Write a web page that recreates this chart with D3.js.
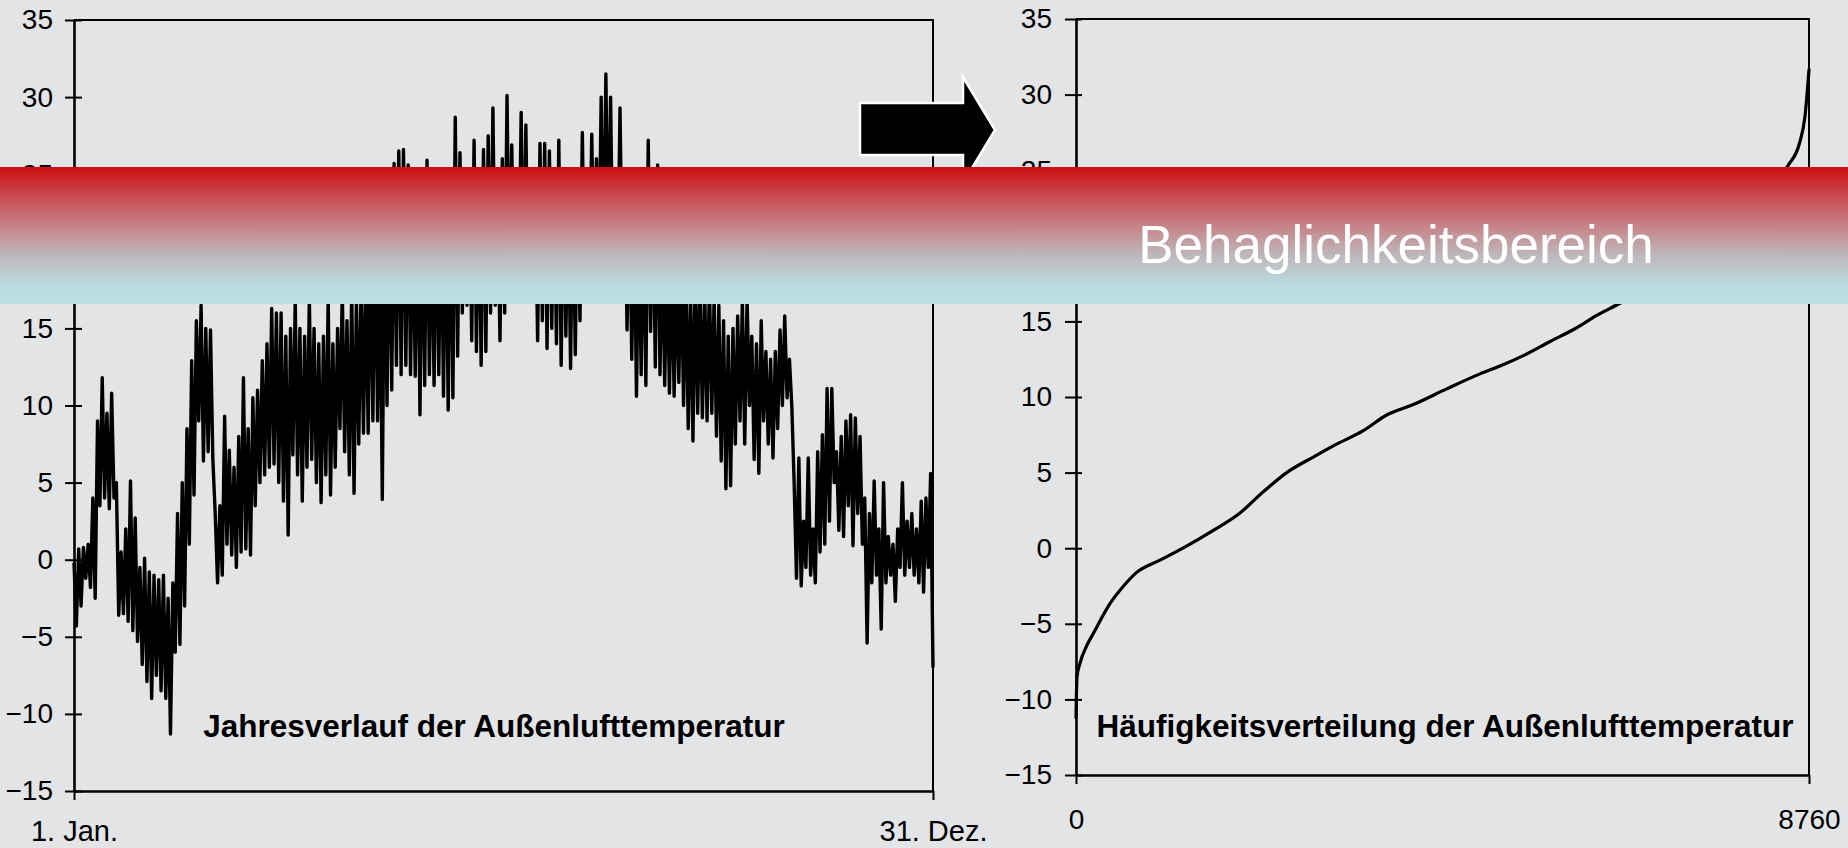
<!DOCTYPE html>
<html>
<head>
<meta charset="utf-8">
<script src="https://cdn.jsdelivr.net/npm/d3@7"></script>
<style>
  body { margin: 0; background: #e3e4e6; }
  svg { display: block; }
</style>
</head>
<body>
<svg id="chart"></svg>
<script>
// Size of the page
const svgWidth = 1848;
const svgHeight = 848;
const fontFamily = '"Liberation Sans", Arial, Helvetica, sans-serif';

// Tick values and labels
const yTicks = [-15, -10, -5, 0, 5, 10, 15, 20, 25, 30, 35];
const yearTickDays = [0, 365];
const yearTickLabels = ['1. Jan.', '31. Dez.'];
const hourTicks = [0, 8760];

// Outdoor temperature over the year, read every 2 days (upper and lower edge of the daily swing)
const sampleStepDays = 2;
const highTemps = [
  -0.2, 0.7, 0.8, 1.0, 4.0, 9.0, 11.8, 9.5, 10.8, 5.0,
  0.5, 2.0, 5.1, 2.7, -0.5, 0.1, -0.8, -1.0, -1.3, -1.0,
  -2.5, -1.5, 3.0, 5.0, 8.5, 12.9, 15.5, 16.5, 15.0, 14.9,
  3.0, 3.5, 9.3, 7.1, 6.0, 8.0, 11.8, 8.5, 10.5, 11.0,
  12.9, 14.0, 16.3, 16.0, 16.0, 14.5, 15.0, 16.8, 15.0, 14.5,
  17.0, 15.0, 14.0, 14.5, 17.0, 14.0, 15.0, 17.5, 15.5, 17.5,
  17.0, 18.0, 19.0, 21.0, 22.0, 20.0, 23.0, 24.0, 25.7, 26.5,
  26.6, 25.6, 23.0, 24.0, 24.0, 25.9, 23.0, 24.0, 24.0, 24.0,
  25.0, 28.7, 26.4, 24.0, 25.0, 27.2, 25.0, 26.6, 27.5, 29.3,
  24.0, 26.0, 30.1, 26.9, 25.0, 29.0, 28.2, 25.0, 24.5, 27.0,
  27.0, 26.5, 25.0, 27.2, 25.0, 24.0, 25.0, 24.5, 27.7, 25.0,
  27.6, 26.0, 30.0, 31.5, 30.0, 25.0, 29.3, 25.0, 24.0, 23.0,
  22.0, 23.0, 27.2, 24.0, 25.6, 21.0, 20.0, 19.5, 19.0, 20.0,
  18.5, 17.5, 19.0, 18.0, 17.5, 18.0, 17.0, 16.5, 15.5, 14.5,
  15.0, 15.8, 16.8, 17.0, 14.5, 14.0, 15.5, 13.5, 13.0, 13.5,
  14.9, 15.8, 13.0, 5.0, 6.6, 2.5, 6.6, 2.0, 7.0, 8.1,
  11.1, 11.1, 7.0, 8.0, 9.0, 9.4, 9.2, 8.0, 4.0, 3.0,
  5.1, 2.0, 5.0, 1.5, 1.0, 2.0, 5.0, 2.5, 3.0, 2.0,
  3.8, 4.0, 5.6
];
const lowTemps = [
  -4.3, -3.0, -1.2, -1.8, -2.5, 3.5, 4.0, 3.3, 4.0, -3.6,
  -3.5, -4.0, -4.6, -5.3, -6.8, -7.9, -9.0, -7.5, -8.5, -9.0,
  -11.3, -6.0, -5.5, -3.0, 1.0, 4.2, 9.0, 6.4, 7.0, 6.5,
  -1.5, -1.0, 1.0, 0.3, -0.5, 0.5, 0.7, 0.3, 3.5, 5.0,
  5.5, 6.0, 6.2, 5.0, 3.8, 1.6, 6.8, 5.5, 3.8, 6.0,
  6.5, 5.0, 3.7, 5.5, 4.2, 6.0, 8.5, 7.0, 5.5, 4.3,
  7.5, 8.2, 8.2, 9.0, 9.0, 3.9, 10.0, 11.0, 12.6, 12.0,
  12.6, 12.0, 11.9, 9.4, 11.3, 12.0, 11.3, 12.0, 10.6, 9.7,
  10.5, 13.2, 16.0, 16.5, 14.2, 13.5, 12.6, 13.5, 16.0, 16.5,
  14.2, 16.0, 17.0, 17.5, 17.5, 17.0, 17.0, 17.0, 14.2, 15.5,
  13.7, 15.0, 14.0, 12.6, 14.5, 12.4, 13.3, 15.5, 17.0, 18.0,
  18.0, 18.5, 18.5, 19.0, 18.0, 17.5, 17.5, 14.9, 13.0, 10.6,
  12.0, 11.3, 14.8, 12.5, 12.0, 11.3, 10.8, 10.6, 11.5, 10.0,
  8.5, 7.7, 9.5, 9.2, 9.0, 9.5, 8.0, 6.4, 4.6, 4.8,
  7.5, 9.0, 7.5, 10.0, 6.5, 5.6, 9.0, 7.5, 6.6, 8.5,
  10.0, 10.5, 10.0, -1.2, -1.7, -0.5, -1.0, -1.5, 0.5, 1.0,
  2.5, 5.0, 1.9, 1.5, 3.5, 0.9, 3.0, 1.0, -5.4, -1.5,
  -1.0, -4.5, -1.5, -1.0, -2.7, -0.5, -1.0, -0.5, -1.0, -1.5,
  -2.1, -0.5, -7.0
];

// Sorted hourly temperatures (duration curve)
const sortedHours = [0, 12, 48, 128, 207, 406, 566, 725, 1004, 1283, 1641, 1960, 2238, 2518, 2836, 3075,
  3433, 3713, 4031, 4430, 4828, 5067, 5346, 5665, 5984, 6223, 6501, 7000, 7400, 7800, 8100, 8350,
  8509, 8647, 8712, 8760];
const sortedTemps = [-11.2, -8.5, -7.6, -6.45, -5.64, -3.67, -2.52, -1.6, -0.79, 0.02, 1.18, 2.33, 3.73, 5.0, 6.03, 6.77,
  7.77, 8.81, 9.5, 10.54, 11.53, 12.05, 12.74, 13.67, 14.58, 15.4, 16.2, 17.9, 19.3, 21.0, 22.6, 24.0,
  25.3, 26.8, 28.56, 31.65];

const leftTitle = 'Jahresverlauf der Außenlufttemperatur';
const rightTitle = 'Häufigkeitsverteilung der Außenlufttemperatur';
const bandLabel = 'Behaglichkeitsbereich';

//SVG creation
const svg = d3.select('#chart')
  .attr('width', svgWidth)
  .attr('height', svgHeight)
  .style('font-family', fontFamily);

svg.append('rect')
  .attr('width', svgWidth)
  .attr('height', svgHeight)
  .attr('fill', '#e3e4e6');

//Scales
const xYear = d3.scaleLinear().domain([0, 365]).range([74, 933]);
const yYear = d3.scaleLinear().domain([-15, 35]).range([791, 20]);
const xHours = d3.scaleLinear().domain([0, 8760]).range([1076, 1809]);
const yHours = d3.scaleLinear().domain([-15, 35]).range([775, 19]);

//Axes and frame for one panel
function drawPanel(x, y, xTickValues, xTickFormat, opts) {
  const g = svg.append('g');
  const [x0, x1] = x.range();
  const [yBottom, yTop] = y.range();

  // top and right border
  g.append('path')
    .attr('d', `M${x0},${yTop}H${x1}V${yBottom}`)
    .attr('fill', 'none')
    .attr('stroke', '#000')
    .attr('stroke-width', 2);

  const yAxis = g.append('g')
    .attr('transform', `translate(${x0},0)`)
    .call(d3.axisLeft(y).tickValues(yTicks).tickSize(opts.tickOut).tickSizeOuter(0).tickPadding(opts.labelPad));
  yAxis.selectAll('.tick line').attr('x1', opts.tickIn).attr('stroke-width', 2);

  const xAxis = g.append('g')
    .attr('transform', `translate(0,${yBottom})`)
    .call(d3.axisBottom(x).tickValues(xTickValues).tickFormat(xTickFormat).tickSize(9).tickSizeOuter(0).tickPadding(opts.xLabelPad));
  xAxis.selectAll('.tick line').attr('stroke-width', 2);

  [yAxis, xAxis].forEach(a => {
    a.attr('font-family', fontFamily).attr('font-size', 28);
    a.select('.domain').attr('stroke-width', 2.6);
    a.selectAll('text').attr('fill', '#000');
  });
  xAxis.attr('font-size', opts.xFontSize);
  return g;
}

drawPanel(xYear, yYear, yearTickDays, (d, i) => yearTickLabels[i],
  { tickOut: 9, tickIn: 8, labelPad: 12, xLabelPad: 20, xFontSize: 29 });
drawPanel(xHours, yHours, hourTicks, d3.format('d'),
  { tickOut: 11, tickIn: 6, labelPad: 13, xLabelPad: 25, xFontSize: 28 });

//Year course: zigzag between the upper and lower reading of each sample
const yearPoints = [];
highTemps.forEach((hi, i) => {
  const day = i * sampleStepDays;
  yearPoints.push([day, hi], [day + 1, lowTemps[i]]);
});

svg.append('path')
  .datum(yearPoints)
  .attr('fill', 'none')
  .attr('stroke', '#000')
  .attr('stroke-width', 3.4)
  .attr('stroke-linejoin', 'round')
  .attr('d', d3.line().x(d => xYear(d[0])).y(d => yYear(d[1])));

//Duration curve
svg.append('path')
  .datum(sortedHours.map((h, i) => [h, sortedTemps[i]]))
  .attr('fill', 'none')
  .attr('stroke', '#000')
  .attr('stroke-width', 3.2)
  .attr('stroke-linecap', 'round')
  .attr('d', d3.line().curve(d3.curveMonotoneX).x(d => xHours(d[0])).y(d => yHours(d[1])));

//Titles
svg.append('text')
  .attr('x', 494).attr('y', 737)
  .attr('text-anchor', 'middle')
  .style('font-size', '31.5px').style('font-weight', 'bold')
  .text(leftTitle);

svg.append('text')
  .attr('x', 1445).attr('y', 737)
  .attr('text-anchor', 'middle')
  .style('font-size', '31.5px').style('font-weight', 'bold')
  .text(rightTitle);

//Arrow between the panels
svg.append('path')
  .attr('d', 'M860,103H963V77L995,130L963,183V155H860Z')
  .attr('fill', '#000')
  .attr('stroke', '#fff')
  .attr('stroke-width', 2.5);

//Comfort band
const grad = svg.append('defs').append('linearGradient')
  .attr('id', 'bandGrad')
  .attr('x1', 0).attr('y1', 0).attr('x2', 0).attr('y2', 1);
[[0, '#cc0e12'], [0.2, '#c9474b'], [0.45, '#c6888d'], [0.65, '#bdb9bc'], [0.85, '#badade'], [1, '#bbe0e4']]
  .forEach(([o, c]) => grad.append('stop').attr('offset', o).attr('stop-color', c));

svg.append('rect')
  .attr('x', 0).attr('y', 167)
  .attr('width', svgWidth).attr('height', 137)
  .attr('fill', 'url(#bandGrad)');

svg.append('text')
  .attr('x', 1396).attr('y', 263)
  .attr('text-anchor', 'middle')
  .attr('fill', '#fff')
  .style('font-size', '53px')
  .text(bandLabel);
</script>
</body>
</html>
